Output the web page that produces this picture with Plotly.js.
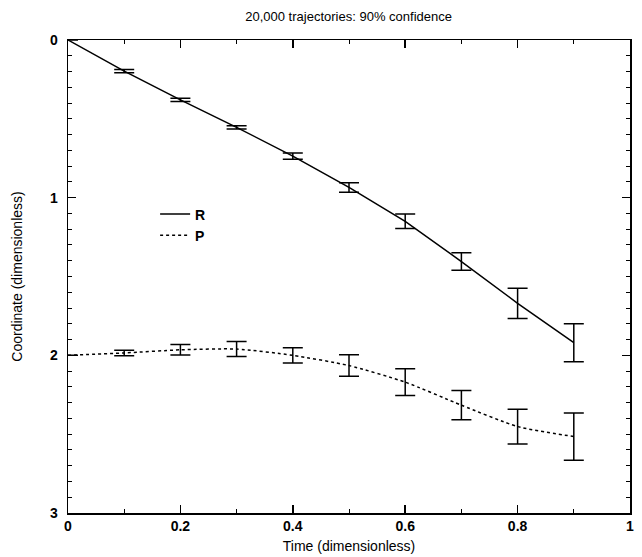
<!DOCTYPE html>
<html><head><meta charset="utf-8">
<script src="https://cdn.plot.ly/plotly-3.0.1.min.js"></script>
<style>html,body{margin:0;padding:0;background:#fff}#chart{width:642px;height:557px}</style>
</head><body><div id="chart"></div>
<script>
var timeR = [0, 0.1, 0.2, 0.3, 0.4, 0.5, 0.6, 0.7, 0.8, 0.9];
var coordR = [0, 0.197, 0.38, 0.554, 0.736, 0.935, 1.15, 1.405, 1.67, 1.92];
var errR = [0, 0.01, 0.01, 0.01, 0.02, 0.03, 0.046, 0.055, 0.096, 0.12];
var timeP = [0, 0.1, 0.2, 0.3, 0.4, 0.5, 0.6, 0.7, 0.8, 0.9];
var coordP = [2.0, 1.985, 1.965, 1.96, 2.0, 2.065, 2.17, 2.316, 2.452, 2.515];
var errP = [0, 0.018, 0.033, 0.048, 0.048, 0.068, 0.085, 0.093, 0.11, 0.15];

var fam = 'Liberation Sans, Arial, sans-serif';
var traces = [
  {x: timeR, y: coordR, name: 'R', type: 'scatter', mode: 'lines',
   line: {color: '#000', width: 1.5},
   error_y: {type: 'data', array: errR, visible: true, color: '#000', thickness: 1.5, width: 10}},
  {x: timeP, y: coordP, name: 'P', type: 'scatter', mode: 'lines',
   line: {color: '#000', width: 1.5, dash: 'dot', shape: 'spline', smoothing: 0.6},
   error_y: {type: 'data', array: errP, visible: true, color: '#000', thickness: 1.5, width: 10}}
];
var axisCommon = {showline: true, linecolor: '#000', linewidth: 1.5, mirror: 'ticks',
  ticks: 'inside', ticklen: 8, tickwidth: 1.5, tickcolor: '#000', showgrid: false, zeroline: false,
  tickfont: {family: fam, size: 14, color: '#000', weight: 'bold'}};
var layout = {
  width: 642, height: 557,
  margin: {l: 68, r: 12, t: 40, b: 44},
  paper_bgcolor: '#fff', plot_bgcolor: '#fff',
  font: {family: fam, color: '#000'},
  title: {text: '20,000 trajectories: 90% confidence', x: 0.543, xanchor: 'center', y: 0.97, yanchor: 'middle',
    font: {family: fam, size: 13, color: '#000'}},
  xaxis: Object.assign({}, axisCommon, {range: [0, 1], tickvals: [0, 0.2, 0.4, 0.6, 0.8, 1],
    ticktext: ['0', '0.2', '0.4', '0.6', '0.8', '1'],
    minor: {dtick: 0.1, tick0: 0, ticks: 'inside', ticklen: 4, tickwidth: 1, tickcolor: '#000'},
    title: {text: 'Time (dimensionless)', standoff: 8, font: {family: fam, size: 14, color: '#000'}}}),
  yaxis: Object.assign({}, axisCommon, {range: [3, 0], tickvals: [0, 1, 2, 3], ticklabelstandoff: 6,
    minor: {dtick: 0.1, tick0: 0, ticks: 'inside', ticklen: 4, tickwidth: 1, tickcolor: '#000'},
    title: {text: 'Coordinate (dimensionless)', standoff: 24, font: {family: fam, size: 14, color: '#000'}}}),
  showlegend: true,
  legend: {x: 0.155, y: 0.665, xanchor: 'left', yanchor: 'top', bgcolor: 'rgba(0,0,0,0)',
    font: {family: fam, size: 14, color: '#000', weight: 'bold'}, tracegroupgap: 0}
};
Plotly.newPlot('chart', traces, layout, {displayModeBar: false, staticPlot: true});
</script></body></html>
